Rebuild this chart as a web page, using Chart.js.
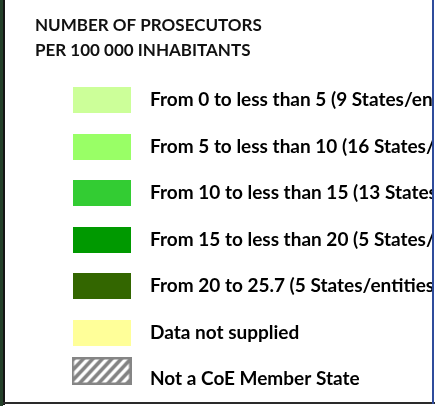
<!DOCTYPE html>
<html>
<head>
<meta charset="utf-8">
<script src="https://cdn.jsdelivr.net/npm/chart.js@4/dist/chart.umd.min.js"></script>
<style>
  body { margin: 0; background: #fff; }
  #wrap { position: absolute; left: 0; top: 0; width: 433px; height: 403px; overflow: hidden; }
  .edge { position: absolute; }
</style>
</head>
<body>
<div id="wrap"><canvas id="legendChart" width="560" height="406"></canvas></div>
<div class="edge" style="left:0;top:0;width:3px;height:406px;background:#24402a"></div>
<div class="edge" style="left:3px;top:0;width:2px;height:405px;background:#151515"></div>
<div class="edge" style="left:3px;top:402px;width:432px;height:2px;background:#2a2a2a"></div>
<div class="edge" style="left:432px;top:0;width:2px;height:404px;background:#2f4c9c"></div>
<script>
const titleLines = ['NUMBER OF PROSECUTORS', 'PER 100 000 INHABITANTS'];

const categories = [
    'From 0 to less than 5 (9 States/entities)',
    'From 5 to less than 10 (16 States/entities)',
    'From 10 to less than 15 (13 States/entities)',
    'From 15 to less than 20 (5 States/entities)',
    'From 20 to 25.7 (5 States/entities)',
    'Data not supplied',
    'Not a CoE Member State'
];

const swatchColors = ['#ccff99', '#99ff66', '#33cc33', '#009900', '#336600', '#ffff99', 'hatch'];

// little canvases used as point styles for the legend boxes
function makeSwatch(color) {
    const c = document.createElement('canvas');
    c.width = 58;
    c.height = 26;
    const g = c.getContext('2d');
    g.fillStyle = color;
    g.fillRect(0, 0, 58, 26);
    return c;
}

function makeHatch() {
    // taller than the box so the hatched swatch sits a bit above its text
    const c = document.createElement('canvas');
    c.width = 60;
    c.height = 44;
    const g = c.getContext('2d');
    g.save();
    g.beginPath();
    g.rect(1, 1, 58, 26);
    g.clip();
    g.fillStyle = '#ffffff';
    g.fillRect(0, 0, 60, 28);
    g.strokeStyle = '#838383';
    g.lineWidth = 3.6;
    for (let x = -22; x < 80; x += 9.5) {
        g.beginPath();
        g.moveTo(x, 28);
        g.lineTo(x + 26, 0);
        g.stroke();
    }
    g.restore();
    g.strokeStyle = '#858585';
    g.lineWidth = 2.5;
    g.strokeRect(1.25, 1.25, 57.5, 25.5);
    return c;
}

const swatches = swatchColors.map(col => col === 'hatch' ? makeHatch() : makeSwatch(col));

const ctx = document.getElementById('legendChart').getContext('2d');
new Chart(ctx, {
    type: 'bar',
    data: { labels: [], datasets: [] },
    options: {
        responsive: false,
        animation: false,
        events: [],
        layout: { padding: { left: 35, top: 0, right: 0, bottom: 0 } },
        scales: {
            x: { display: false },
            y: { display: false }
        },
        plugins: {
            tooltip: { enabled: false },
            title: {
                display: true,
                text: titleLines,
                align: 'start',
                color: '#111111',
                font: { family: 'Lato', weight: 'bold', size: 17, lineHeight: 25 / 17 },
                padding: { top: 13, bottom: 0 }
            },
            legend: {
                display: true,
                position: 'top',
                align: 'start',
                maxHeight: 400,
                labels: {
                    usePointStyle: true,
                    pointStyleWidth: 78,
                    boxHeight: 19,
                    padding: 27.5,
                    color: '#1c1c1c',
                    font: { family: 'Lato', weight: 'bold', size: 19 },
                    generateLabels: () => categories.map((text, i) => ({
                        text: text,
                        fillStyle: swatchColors[i],
                        strokeStyle: 'transparent',
                        lineWidth: 0,
                        pointStyle: swatches[i],
                        hidden: false,
                        datasetIndex: i
                    }))
                }
            }
        }
    }
});
</script>
</body>
</html>
